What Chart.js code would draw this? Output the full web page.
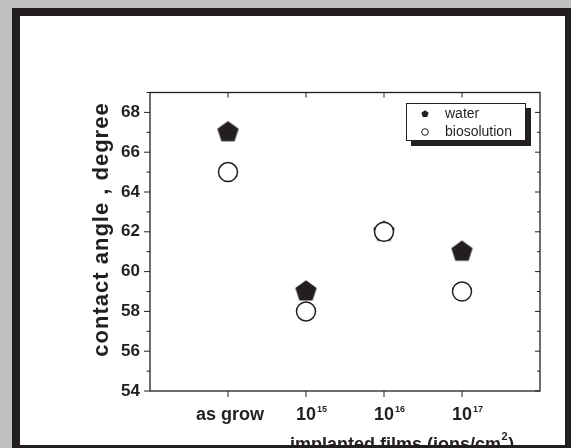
<!DOCTYPE html>
<html><head><meta charset="utf-8">
<script src="https://cdn.jsdelivr.net/npm/chart.js@4.4.1/dist/chart.umd.min.js"></script>
<style>
html,body{margin:0;padding:0;width:571px;height:448px;overflow:hidden;background:#c0c0c0;}
#paper{position:absolute;left:12px;top:8px;width:561px;height:445px;background:#fff;}
#frame{position:absolute;left:12px;top:8px;width:561px;height:445px;box-sizing:border-box;border:8px solid #231f20;pointer-events:none;z-index:2;}
#c{position:absolute;left:0;top:0;z-index:1;}
</style></head><body>
<div id="paper"></div>
<canvas id="c" width="571" height="448"></canvas>
<div id="frame"></div>
<script>
// ---- data ----
const categories = ['as grow', '10^15', '10^16', '10^17'];
const waterValues = [67, 59, 62, 61];
const bioValues = [65, 58, 62, 59];
const seriesLabels = ['water', 'biosolution'];
const yMin = 54, yMax = 69;
const xMin = 0, xMax = 5;

const INK = '#231f20';
const FONT = 'Arial, "Liberation Sans", sans-serif';

function pentagonCanvas(R, color) {
  const s = Math.ceil(2 * R + 2);
  const c = document.createElement('canvas');
  c.width = s; c.height = s;
  const g = c.getContext('2d');
  g.fillStyle = color;
  g.beginPath();
  for (let i = 0; i < 5; i++) {
    const a = -Math.PI / 2 + i * 2 * Math.PI / 5;
    const px = s / 2 + R * Math.cos(a), py = s / 2 + R * Math.sin(a);
    if (i === 0) g.moveTo(px, py); else g.lineTo(px, py);
  }
  g.closePath();
  g.fill();
  return c;
}
const bigPent = pentagonCanvas(11.2, INK);
const smallPent = pentagonCanvas(3.8, INK);

function drawSupLabel(ctx, text, x0, baseline, size, supSize, supRise) {
  const parts = text.split('^');
  ctx.textAlign = 'left';
  ctx.textBaseline = 'alphabetic';
  ctx.font = 'bold ' + size + 'px ' + FONT;
  const w0 = ctx.measureText(parts[0]).width;
  ctx.fillText(parts[0], x0, baseline);
  if (parts[1]) {
    ctx.font = 'bold ' + supSize + 'px ' + FONT;
    ctx.fillText(parts[1], x0 + w0 + 1, baseline - supRise);
  }
}

const framePlugin = {
  id: 'framePlugin',
  afterDraw(chart) {
    const ctx = chart.ctx;
    const a = chart.chartArea;
    const xs = chart.scales.x, ys = chart.scales.y;
    ctx.save();
    ctx.strokeStyle = INK;
    ctx.fillStyle = INK;
    // box
    ctx.lineWidth = 1.3;
    ctx.strokeRect(a.left, a.top, a.right - a.left, a.bottom - a.top);
    // y ticks: left outward, right inward
    ctx.lineWidth = 1;
    for (let v = yMin; v <= yMax; v++) {
      const y = ys.getPixelForValue(v);
      const major = (v % 2 === 0);
      ctx.beginPath();
      ctx.moveTo(a.left, y); ctx.lineTo(a.left - (major ? 6 : 3.5), y);
      ctx.moveTo(a.right, y); ctx.lineTo(a.right - (major ? 5 : 3), y);
      ctx.stroke();
    }
    // x ticks: bottom outward, top inward
    for (let i = 1; i <= categories.length; i++) {
      const x = xs.getPixelForValue(i);
      ctx.beginPath();
      ctx.moveTo(x, a.bottom); ctx.lineTo(x, a.bottom + 6);
      ctx.moveTo(x, a.top); ctx.lineTo(x, a.top + 5);
      ctx.stroke();
    }
    // x tick labels
    categories.forEach((lab, i) => {
      const x = xs.getPixelForValue(i + 1);
      if (lab.indexOf('^') >= 0) {
        ctx.font = 'bold 18px ' + FONT;
        const w0 = ctx.measureText(lab.split('^')[0]).width;
        drawSupLabel(ctx, lab, x - w0 / 2, 420, 18, 9, 8.5);
      } else {
        ctx.font = 'bold 18px ' + FONT;
        ctx.textAlign = 'center';
        ctx.textBaseline = 'alphabetic';
        ctx.fillText(lab, x + 2, 420);
      }
    });
    // x title
    ctx.font = 'bold 18px ' + FONT;
    ctx.textAlign = 'left';
    ctx.textBaseline = 'alphabetic';
    const t1 = 'implanted films (ions/cm';
    const tx = 290, tb = 450;
    ctx.fillText(t1, tx, tb);
    let w = ctx.measureText(t1).width;
    ctx.font = 'bold 11px ' + FONT;
    ctx.fillText('2', tx + w + 0.5, tb - 10);
    w += ctx.measureText('2').width + 1;
    ctx.font = 'bold 18px ' + FONT;
    ctx.fillText(')', tx + w, tb);
    // y title
    ctx.save();
    ctx.translate(108, 229.5);
    ctx.rotate(-Math.PI / 2);
    ctx.font = 'bold 22px ' + FONT;
    if ('letterSpacing' in ctx) ctx.letterSpacing = '1px';
    ctx.textAlign = 'center';
    ctx.textBaseline = 'alphabetic';
    ctx.fillText('contact angle , degree', 0, 0);
    ctx.restore();
    // legend
    const lx = 406, ly = 103, lw = 120, lh = 38;
    ctx.fillStyle = INK;
    ctx.fillRect(lx + 5, ly + 5, lw, lh);
    ctx.fillStyle = '#fff';
    ctx.fillRect(lx, ly, lw, lh);
    ctx.lineWidth = 1;
    ctx.strokeStyle = INK;
    ctx.strokeRect(lx + 0.5, ly + 0.5, lw - 1, lh - 1);
    ctx.drawImage(smallPent, 425 - smallPent.width / 2, 114 - smallPent.height / 2);
    ctx.beginPath();
    ctx.arc(425, 132, 3.3, 0, Math.PI * 2);
    ctx.fillStyle = '#fff';
    ctx.fill();
    ctx.stroke();
    ctx.fillStyle = INK;
    ctx.font = '14px ' + FONT;
    ctx.textAlign = 'left';
    ctx.textBaseline = 'middle';
    ctx.fillText(seriesLabels[0], 445, 114);
    ctx.fillText(seriesLabels[1], 445, 132);
    ctx.restore();
  }
};

new Chart(document.getElementById('c'), {
  type: 'scatter',
  data: {
    datasets: [
      {
        label: seriesLabels[0],
        data: waterValues.map((v, i) => ({ x: i + 1, y: v })),
        pointStyle: bigPent,
        pointRadius: 11,
        order: 2
      },
      {
        label: seriesLabels[1],
        data: bioValues.map((v, i) => ({ x: i + 1, y: v })),
        pointStyle: 'circle',
        pointRadius: 9.5,
        borderWidth: 1.5,
        borderColor: INK,
        backgroundColor: '#fff',
        order: 1
      }
    ]
  },
  options: {
    responsive: false,
    animation: false,
    devicePixelRatio: 1,
    events: [],
    layout: { padding: { left: 0, top: 92.5, right: 31, bottom: 0 } },
    plugins: { legend: { display: false }, tooltip: { enabled: false } },
    scales: {
      x: {
        type: 'linear', min: xMin, max: xMax,
        grid: { display: false }, border: { display: false },
        ticks: { display: false },
        afterFit(s) { s.height = 57; }
      },
      y: {
        type: 'linear', min: yMin, max: yMax,
        grid: { display: false, drawTicks: false }, border: { display: false },
        ticks: {
          stepSize: 1, padding: 10, color: INK,
          font: { family: FONT, size: 17, weight: 'bold' },
          callback: v => (v % 2 === 0 ? String(v) : '')
        },
        afterFit(s) { s.width = 150; }
      }
    }
  },
  plugins: [framePlugin]
});
</script>
</body></html>
